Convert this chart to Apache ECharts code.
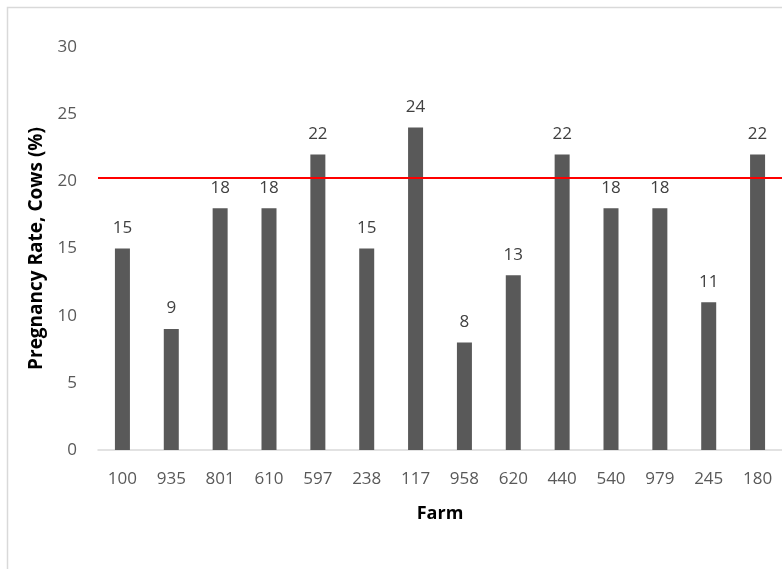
<!DOCTYPE html>
<html>
<head>
<meta charset="utf-8">
<script src="https://cdn.jsdelivr.net/npm/echarts@6/dist/echarts.min.js"></script>
<style>
  html, body { margin: 0; padding: 0; background: #fff; }
  #chart { width: 782px; height: 569px; }
</style>
</head>
<body>
<div id="chart"></div>
<script>
// Farms and their cow pregnancy rates (%)
const farms = ['100', '935', '801', '610', '597', '238', '117', '958', '620', '440', '540', '979', '245', '180'];
const pregnancyRate = [15, 9, 18, 18, 22, 15, 24, 8, 13, 22, 18, 18, 11, 22];
// Reference level drawn as a horizontal red line
const targetRate = [20.3];
const yTicks = { min: 0, max: 30, interval: 5 };

const FONT = '"Open Sans", sans-serif';

const chart = echarts.init(document.getElementById('chart'), null, { renderer: 'canvas' });

chart.setOption({
  animation: false,
  backgroundColor: '#ffffff',
  graphic: [{
    type: 'rect',
    silent: true,
    shape: { x: 7.5, y: 7.5, width: 1000, height: 1000 },
    style: { fill: 'none', stroke: '#d9d9d9', lineWidth: 1.5 }
  }],
  grid: { left: 98, right: 0, top: 47, bottom: 119, containLabel: false },
  xAxis: {
    type: 'category',
    data: farms,
    name: 'Farm',
    nameLocation: 'middle',
    nameGap: 55,
    nameTextStyle: { fontFamily: FONT, fontWeight: 'bold', fontSize: 18, color: '#000' },
    axisLine: { show: true, lineStyle: { color: '#d9d9d9', width: 1.5 } },
    axisTick: { show: false },
    axisLabel: { fontFamily: FONT, fontSize: 17, color: '#595959', margin: 21 },
    splitLine: { show: false }
  },
  yAxis: {
    type: 'value',
    min: yTicks.min,
    max: yTicks.max,
    interval: yTicks.interval,
    name: 'Pregnancy Rate, Cows (%)',
    nameLocation: 'middle',
    nameGap: 52,
    nameRotate: 90,
    nameTextStyle: { fontFamily: FONT, fontWeight: 'bold', fontSize: 19, color: '#000' },
    axisLine: { show: false },
    axisTick: { show: false },
    axisLabel: { fontFamily: FONT, fontSize: 17, color: '#595959', margin: 21 },
    splitLine: { show: false }
  },
  series: [{
    type: 'bar',
    data: pregnancyRate,
    barWidth: 15,
    itemStyle: { color: '#595959' },
    label: {
      show: true,
      position: 'top',
      distance: 12,
      fontFamily: FONT,
      fontSize: 17,
      color: '#404040'
    },
    markLine: {
      silent: true,
      symbol: ['none', 'none'],
      label: { show: false },
      lineStyle: { color: '#ff0000', width: 2, type: 'solid' },
      data: targetRate.map(v => ({ yAxis: v }))
    }
  }]
});
</script>
</body>
</html>
